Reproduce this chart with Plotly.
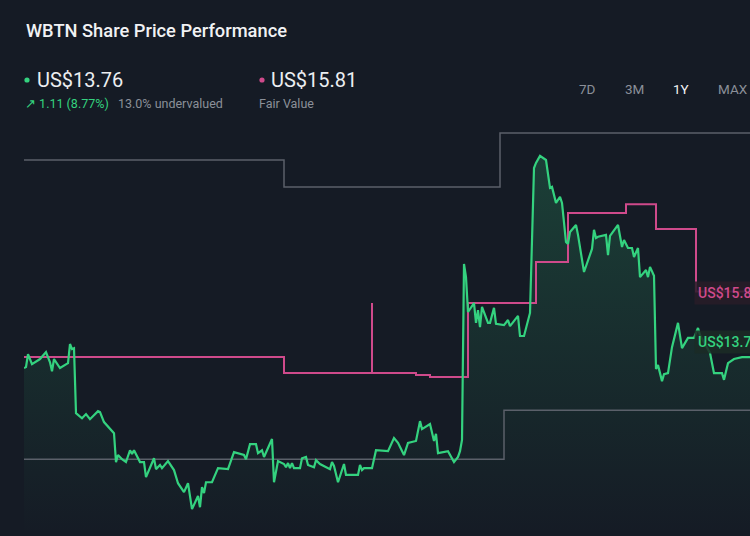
import pandas as pd
import plotly.graph_objects as go

# ---------------- data ----------------
start_date = "2024-11-14"
price_days = [0,1,2,4,8,11,13,14,15,18,22,23,24,25,26,29,31,33,37,38,40,43,45,46,47,49,51,53,54,55,
              58,60,61,65,66,68,69,72,75,77,80,82,84,87,88,89,90,91,94,97,102,105,110,111,113,116,117,119,120,124,
              125,127,130,131,132,133,134,135,138,139,141,142,145,146,148,153,154,155,157,160,161,167,168,169,170,174,175,176,182,185,
              187,190,192,194,196,198,199,203,205,206,207,212,213,215,217,218,219,220,221,222,225,226,227,228,229,232,233,235,236,240,
              242,243,247,248,250,253,255,256,258,261,263,264,266,268,269,271,272,273,276,277,280,284,285,286,287,291,292,293,297,299,
              300,302,304,305,307,308,311,312,313,315,316,317,319,320,322,324,327,329,332,335,337,338,343,345,349,350,352,355,359,363]
price_vals = [13.42,13.45,13.85,13.54,13.70,13.92,13.60,13.32,13.70,13.42,13.57,14.17,14.01,14.04,12.01,11.85,11.98,11.82,12.07,12.04,
              11.73,11.54,11.38,10.48,10.70,10.57,10.48,10.85,10.73,10.85,
              10.48,10.48,10.01,10.60,10.26,10.39,10.29,10.51,10.23,9.82,9.54,9.82,9.01,9.42,9.07,9.70,9.51,9.85,9.85,10.29,
              10.26,10.79,10.70,10.57,11.04,11.04,10.76,10.85,10.64,11.20,
              9.85,10.51,10.42,10.32,10.45,10.29,10.45,10.29,10.29,10.60,10.64,10.39,10.32,10.54,10.42,10.26,10.48,10.36,9.85,10.42,
              10.08,10.08,10.39,10.23,10.29,10.29,10.60,10.85,10.82,11.23,
              11.08,10.70,11.08,11.11,11.14,11.76,11.51,11.67,11.14,11.36,10.76,10.82,10.70,10.48,10.64,10.82,11.17,16.67,16.26,15.17,
              15.45,14.83,15.23,14.70,15.33,14.83,14.83,15.30,14.80,14.76,
              14.92,14.73,15.05,14.42,14.42,15.14,19.67,19.83,20.05,19.92,19.05,19.08,18.58,18.77,18.58,17.36,17.30,17.67,17.89,17.58,
              16.42,17.14,17.74,17.48,17.52,17.58,16.95,17.55,17.89,17.20,
              17.42,17.17,17.17,16.89,17.17,16.26,16.48,16.26,16.58,16.30,13.39,13.51,13.01,13.23,13.26,14.07,14.83,14.04,14.36,14.36,
              14.67,14.45,13.89,13.26,13.26,13.05,13.57,13.70,13.76,13.76]

fv_days = [0, 130, 174, 174, 196, 203, 222, 256, 272, 301, 316, 336, 363]
fv_vals = [13.76, 13.26, 15.45, 13.26, 13.20, 13.14, 15.45, 16.73, 18.26, 18.54, 17.76, 15.81, 15.81]

upper_days = [0, 130, 238, 363]
upper_vals = [19.92, 19.08, 20.76, 20.76]
lower_days = [0, 240, 363]
lower_vals = [10.57, 12.10, 12.10]

current_price = 13.76
fair_value = 15.81
change_text = "1.11 (8.77%)"
valuation_text = "13.0% undervalued"
periods = ["7D", "3M", "1Y", "MAX"]
active_period = "1Y"

# ---------------- build ----------------
t0 = pd.Timestamp(start_date)
def to_dates(days):
    return [t0 + pd.Timedelta(days=d) for d in days]

W, H = 750, 536
ML, MT = 24, 120
PW, PH = W - ML, H - MT
def px(x):
    return (x - ML) / PW
def py(y):
    return (H - y) / PH

BG = "#151b25"
GREEN = "#34d27f"
PINK = "#cf4a8b"
GREY = "#5b606a"
FONT = "Roboto"

fig = go.Figure()

fig.add_trace(go.Scatter(
    x=to_dates(price_days), y=price_vals, mode="lines",
    line=dict(width=0, color=GREEN), fill="tozeroy",
    fillgradient=dict(type="vertical", start=8.2, stop=20.1,
                      colorscale=[[0, "rgba(52,210,127,0.0)"], [1, "rgba(52,210,127,0.20)"]]),
    hoverinfo="skip", showlegend=False))

for d, v in [(upper_days, upper_vals), (lower_days, lower_vals)]:
    fig.add_trace(go.Scatter(x=to_dates(d), y=v, mode="lines", line=dict(color=GREY, width=1.5, shape="hv"),
                             hoverinfo="skip", showlegend=False))

fig.add_trace(go.Scatter(x=to_dates(fv_days), y=fv_vals, mode="lines",
                         line=dict(color=PINK, width=2, shape="hv"), hoverinfo="skip", showlegend=False))

fig.add_trace(go.Scatter(x=to_dates(price_days), y=price_vals, mode="lines",
                         line=dict(color=GREEN, width=2.2), hoverinfo="skip", showlegend=False))

ann = []
# price labels at right edge (clipped by the page edge, as in the original)
ann.append(dict(xref="paper", yref="y", x=px(694), y=fair_value, yshift=-1, xanchor="left", yanchor="middle",
                text=f"US${fair_value:.2f}", showarrow=False, bgcolor="rgba(40,28,40,0.85)", borderpad=3,
                font=dict(family=FONT, size=14, color=PINK, weight=500)))
ann.append(dict(xref="paper", yref="y", x=px(694), y=current_price, yshift=15, xanchor="left", yanchor="middle",
                text=f"US${current_price:.2f}", showarrow=False, bgcolor="rgba(27,44,38,0.85)", borderpad=3,
                font=dict(family=FONT, size=14, color=GREEN, weight=500)))

# header
ann.append(dict(xref="paper", yref="paper", x=px(24), y=py(30), xanchor="left", yanchor="middle",
                text="WBTN Share Price Performance", showarrow=False,
                font=dict(family=FONT, size=18.3, color="#f1f2f4", weight=500)))
ann.append(dict(xref="paper", yref="paper", x=px(35), y=py(80), xanchor="left", yanchor="middle",
                text=f"US${current_price:.2f}", showarrow=False,
                font=dict(family=FONT, size=20, color="#eceef1")))
ann.append(dict(xref="paper", yref="paper", x=px(269), y=py(80), xanchor="left", yanchor="middle",
                text=f"US${fair_value:.2f}", showarrow=False,
                font=dict(family=FONT, size=20, color="#eceef1")))
ann.append(dict(xref="paper", yref="paper", x=px(23), y=py(103), xanchor="left", yanchor="middle",
                text=f"↗ {change_text}", showarrow=False,
                font=dict(family=FONT, size=12.5, color=GREEN)))
ann.append(dict(xref="paper", yref="paper", x=px(116), y=py(103), xanchor="left", yanchor="middle",
                text=valuation_text, showarrow=False,
                font=dict(family=FONT, size=12.5, color="#8b9099")))
ann.append(dict(xref="paper", yref="paper", x=px(257), y=py(103), xanchor="left", yanchor="middle",
                text="Fair Value", showarrow=False,
                font=dict(family=FONT, size=12.5, color="#8b9099")))
for label, cx in zip(periods, [587, 634, 681, 733]):
    ann.append(dict(xref="paper", yref="paper", x=px(cx), y=py(89), xanchor="center", yanchor="middle",
                    text=label, showarrow=False,
                    font=dict(family=FONT, size=13.5,
                              color="#f1f2f4" if label == active_period else "#8b9099")))

shapes = []
for cx, col in [(27, GREEN), (262, PINK)]:
    shapes.append(dict(type="circle", xref="paper", yref="paper", xsizemode="pixel", ysizemode="pixel",
                       xanchor=px(cx), yanchor=py(80), x0=-2.6, x1=2.6, y0=-2.6, y1=2.6,
                       fillcolor=col, line=dict(width=0)))

fig.update_layout(
    width=W, height=H, margin=dict(l=ML, r=0, t=MT, b=0),
    paper_bgcolor=BG, plot_bgcolor=BG,
    xaxis=dict(range=[t0, t0 + pd.Timedelta(days=363)], visible=False, fixedrange=True),
    yaxis=dict(range=[8.17, 21.17], visible=False, fixedrange=True),
    annotations=ann, shapes=shapes, showlegend=False, hovermode=False,
)

fig.write_html("out.html")
